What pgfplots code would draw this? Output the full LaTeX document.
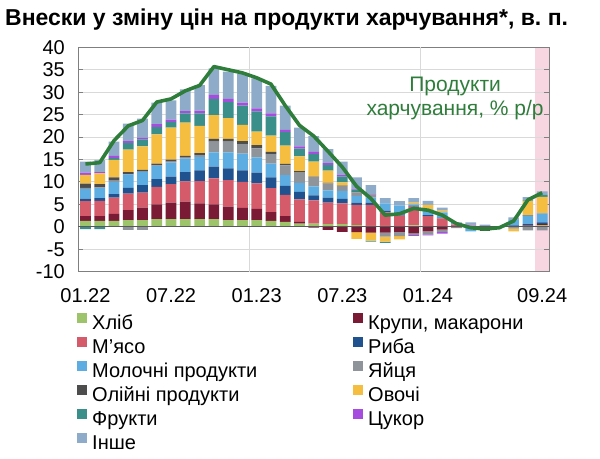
\documentclass[border=0pt]{standalone}
\usepackage{fontspec}
\setmainfont{Liberation Sans}
\usepackage{pgfplots}
\usepackage{pgfplotstable}
\pgfplotsset{compat=1.18}

\definecolor{cA}{HTML}{9DC46B}
\definecolor{cB}{HTML}{7A1A35}
\definecolor{cC}{HTML}{D55B6B}
\definecolor{cD}{HTML}{1F528E}
\definecolor{cE}{HTML}{5DADE2}
\definecolor{cF}{HTML}{8E949A}
\definecolor{cG}{HTML}{4D4D4D}
\definecolor{cH}{HTML}{F6BE41}
\definecolor{cI}{HTML}{3A8F8A}
\definecolor{cJ}{HTML}{A64DDF}
\definecolor{cK}{HTML}{8EACC9}
\definecolor{cLine}{HTML}{2F7D3B}
\definecolor{cPink}{HTML}{F7D6E2}
\definecolor{cGrid}{HTML}{D9D9D9}
\definecolor{cAxis}{HTML}{7F7F7F}

\pgfplotstableread{
x a b c d e f g h i j k t
0 1.3 1.1 3.3 0.6 2.1 0.3 0.9 2.0 -0.5 0.5 2.4 14.0
1 1.3 1.1 3.4 0.6 2.2 0.2 0.7 2.4 -0.5 0.3 2.7 14.3
2 1.3 1.6 3.6 0.8 2.7 0.3 0.7 3.9 0.4 0.5 3.2 19.2
3 1.5 2.2 3.7 1.3 3.0 -0.7 0.5 5.0 1.5 0.4 3.9 22.5
4 1.5 2.8 3.3 1.7 3.0 -0.7 0.4 5.2 1.6 0.4 4.2 23.7
5 1.7 3.3 3.9 1.7 3.0 0.1 0.4 6.5 1.6 0.7 4.8 27.8
6 1.7 3.7 4.1 1.7 3.1 0.2 0.5 7.1 1.3 0.5 4.3 28.5
7 1.7 3.9 4.5 2.1 3.0 0.2 0.4 7.4 2.1 0.5 4.8 30.3
8 1.7 3.5 5.0 2.4 3.0 0.4 0.4 6.1 2.8 0.6 5.7 31.5
9 1.7 3.3 5.8 2.6 3.2 2.4 0.6 5.3 3.6 0.9 5.9 35.7
10 1.5 3.0 5.9 2.6 3.6 2.4 0.6 4.6 3.6 0.7 6.1 35.0
11 1.5 2.7 5.8 2.6 3.7 2.1 0.7 3.6 4.3 0.7 6.5 34.3
12 1.5 2.5 5.7 2.4 3.4 2.0 0.7 3.0 4.5 0.7 6.7 33.2
13 1.3 2.0 5.3 2.4 3.1 2.1 0.5 3.6 4.3 0.7 6.1 31.8
14 1.1 1.3 4.7 2.0 2.4 2.2 0.3 4.1 3.0 0.5 5.4 27.0
15 0.7 0.4 5.0 1.7 2.0 2.4 0.2 3.3 1.7 0.5 4.2 22.6
16 0.7 -0.2 5.2 1.1 2.0 2.1 0.1 3.3 1.7 0.5 3.5 20.2
17 0.6 -0.7 4.8 1.1 1.6 1.6 0.1 2.7 1.3 0.4 3.1 16.8
18 0.6 -1.1 4.6 1.0 1.8 1.1 0.1 0.7 1.3 0.3 3.0 13.3
19 0.4 -1.2 4.5 0.5 1.5 0.8 0.1 -1.5 0.5 0.2 2.5 9.0
20 0.2 -1.3 4.7 0.5 1.1 0.7 0.0 -1.8 -0.2 0.1 2.0 6.3
21 0.2 -1.3 3.0 0.4 1.6 -0.9 0.0 -1.1 -0.3 0.0 1.2 2.6
22 0.1 -1.1 2.4 0.3 1.9 -1.0 0.0 -0.7 0.0 0.0 1.0 2.9
23 0.3 -1.4 4.2 0.2 0.3 -0.4 0.0 0.4 0.0 -0.2 1.0 4.1
24 0.1 -1.0 2.3 0.2 1.3 -0.7 0.0 1.0 0.0 -0.2 0.9 3.7
25 0.1 -0.6 1.8 0.1 1.2 -0.6 0.0 0.4 0.0 -0.3 0.7 2.6
26 0.1 -0.1 0.4 0.0 0.3 -0.2 0.0 0.0 0.0 0.0 0.2 0.7
27 0.1 0.0 0.0 0.0 -1.0 0.2 0.0 0.0 0.0 0.2 0.5 -0.2
28 0.0 0.0 0.0 0.0 -0.3 -0.3 -0.2 0.0 0.0 0.2 0.3 -0.5
29 0.0 0.0 0.0 0.0 -0.1 0.0 0.0 0.0 0.0 0.0 0.1 -0.2
30 0.1 0.0 0.0 0.2 1.2 -0.4 0.0 -0.6 0.0 0.0 0.6 1.3
31 0.2 0.1 0.0 0.3 1.9 -0.8 0.1 3.1 0.2 0.0 0.7 6.0
32 0.4 0.2 0.0 0.4 2.0 -0.8 0.0 3.7 0.5 0.0 0.7 7.6
}\datatable

\pgfplotsset{
  base/.style={
    scale only axis, width=471bp, height=224.4bp,
    xmin=-0.5, xmax=32.5, ymin=-10, ymax=40,
    at={(78.3bp,187.3bp)}, anchor=south west,
  },
  hidden/.style={base, hide axis},
  stk/.style={ybar stacked, bar width=10.7bp},
}
\newcommand{\tkfont}{\fontsize{20bp}{24bp}\selectfont}
\newcommand{\lgfont}{\fontsize{20bp}{23bp}\selectfont}
\newcommand{\anfont}{\fontsize{21bp}{24bp}\selectfont}

\begin{document}
\begin{tikzpicture}
\useasboundingbox (0,0) rectangle (600bp,459bp);

% background band for the latest month
\begin{axis}[hidden]
\fill[cPink] (axis cs:31.5,-10) rectangle (axis cs:32.5,40);
\end{axis}

% visible axis with positive parts
\begin{axis}[base, stk,
  axis line style={draw=cAxis, line width=1.3bp},
  ymajorgrids, major grid style={draw=cGrid, line width=0.9bp},
  ytick={-10,-5,...,40},
  tick align=inside, major tick length=5bp,
  ytick style={draw=cAxis, line width=1bp},
  xtick={0,6,12,18,24,32},
  xticklabels={01.22,07.22,01.23,07.23,01.24,09.24},
  xtick style={draw=none},
  extra x ticks={11.5,23.5}, extra x tick labels={},
  extra x tick style={grid=major, xtick style={draw=none}},
  /pgf/number format/assume math mode=true,
  yticklabel style={font=\tkfont, xshift=-10bp},
  xticklabel style={font=\tkfont, yshift=-13bp},
  legend columns=2,
  legend cell align=left,
  legend image code/.code={\fill[#1] (0bp,1.5bp) rectangle (10bp,11.5bp);},
  legend style={at={(0,0)}, anchor=north west, xshift=-1.3bp, yshift=-41bp,
    draw=none, fill=none, inner sep=0pt, row sep=2.6bp, font=\lgfont,
    nodes={inner sep=1bp, text height=14bp, text depth=4bp},
    /tikz/every odd column/.append style={column sep=4bp}},
]
\addplot[fill=cA, draw=none] table[x=x, y expr={max(\thisrow{a},0)}] {\datatable};
\addlegendentry{\makebox[260bp][l]{Хліб}}
\addplot[fill=cB, draw=none] table[x=x, y expr={max(\thisrow{b},0)}] {\datatable};
\addlegendentry{Крупи, макарони}
\addplot[fill=cC, draw=none] table[x=x, y expr={max(\thisrow{c},0)}] {\datatable};
\addlegendentry{\makebox[260bp][l]{М'ясо}}
\addplot[fill=cD, draw=none] table[x=x, y expr={max(\thisrow{d},0)}] {\datatable};
\addlegendentry{Риба}
\addplot[fill=cE, draw=none] table[x=x, y expr={max(\thisrow{e},0)}] {\datatable};
\addlegendentry{\makebox[260bp][l]{Молочні продукти}}
\addplot[fill=cF, draw=none] table[x=x, y expr={max(\thisrow{f},0)}] {\datatable};
\addlegendentry{Яйця}
\addplot[fill=cG, draw=none] table[x=x, y expr={max(\thisrow{g},0)}] {\datatable};
\addlegendentry{\makebox[260bp][l]{Олійні продукти}}
\addplot[fill=cH, draw=none] table[x=x, y expr={max(\thisrow{h},0)}] {\datatable};
\addlegendentry{Овочі}
\addplot[fill=cI, draw=none] table[x=x, y expr={max(\thisrow{i},0)}] {\datatable};
\addlegendentry{\makebox[260bp][l]{Фрукти}}
\addplot[fill=cJ, draw=none] table[x=x, y expr={max(\thisrow{j},0)}] {\datatable};
\addlegendentry{Цукор}
\addplot[fill=cK, draw=none] table[x=x, y expr={max(\thisrow{k},0)}] {\datatable};
\addlegendentry{\makebox[260bp][l]{Інше}}
\end{axis}

% negative parts
\begin{axis}[hidden, stk]
\addplot[fill=cA, draw=none] table[x=x, y expr={min(\thisrow{a},0)}] {\datatable};
\addplot[fill=cB, draw=none] table[x=x, y expr={min(\thisrow{b},0)}] {\datatable};
\addplot[fill=cC, draw=none] table[x=x, y expr={min(\thisrow{c},0)}] {\datatable};
\addplot[fill=cD, draw=none] table[x=x, y expr={min(\thisrow{d},0)}] {\datatable};
\addplot[fill=cE, draw=none] table[x=x, y expr={min(\thisrow{e},0)}] {\datatable};
\addplot[fill=cF, draw=none] table[x=x, y expr={min(\thisrow{f},0)}] {\datatable};
\addplot[fill=cG, draw=none] table[x=x, y expr={min(\thisrow{g},0)}] {\datatable};
\addplot[fill=cH, draw=none] table[x=x, y expr={min(\thisrow{h},0)}] {\datatable};
\addplot[fill=cI, draw=none] table[x=x, y expr={min(\thisrow{i},0)}] {\datatable};
\addplot[fill=cJ, draw=none] table[x=x, y expr={min(\thisrow{j},0)}] {\datatable};
\addplot[fill=cK, draw=none] table[x=x, y expr={min(\thisrow{k},0)}] {\datatable};
\end{axis}

% zero line, total line, annotation
\begin{axis}[hidden, clip=false]
\draw[draw=black!65, line width=1.3bp] (axis cs:-0.5,0) -- (axis cs:32.5,0);
\addplot[cLine, line width=3.6bp, no markers, line join=round] table[x=x, y=t] {\datatable};
\node[align=center, text=cLine, font=\anfont, inner sep=0pt] at (axis cs:25.9,28.6) {Продукти\\харчування, \% р/р};
\end{axis}

\node[anchor=base west, inner sep=0pt, font=\bfseries\fontsize{23bp}{27bp}\selectfont] at (5bp,433bp) {Внески у зміну цін на продукти харчування*, в.~п.};
\end{tikzpicture}
\end{document}
